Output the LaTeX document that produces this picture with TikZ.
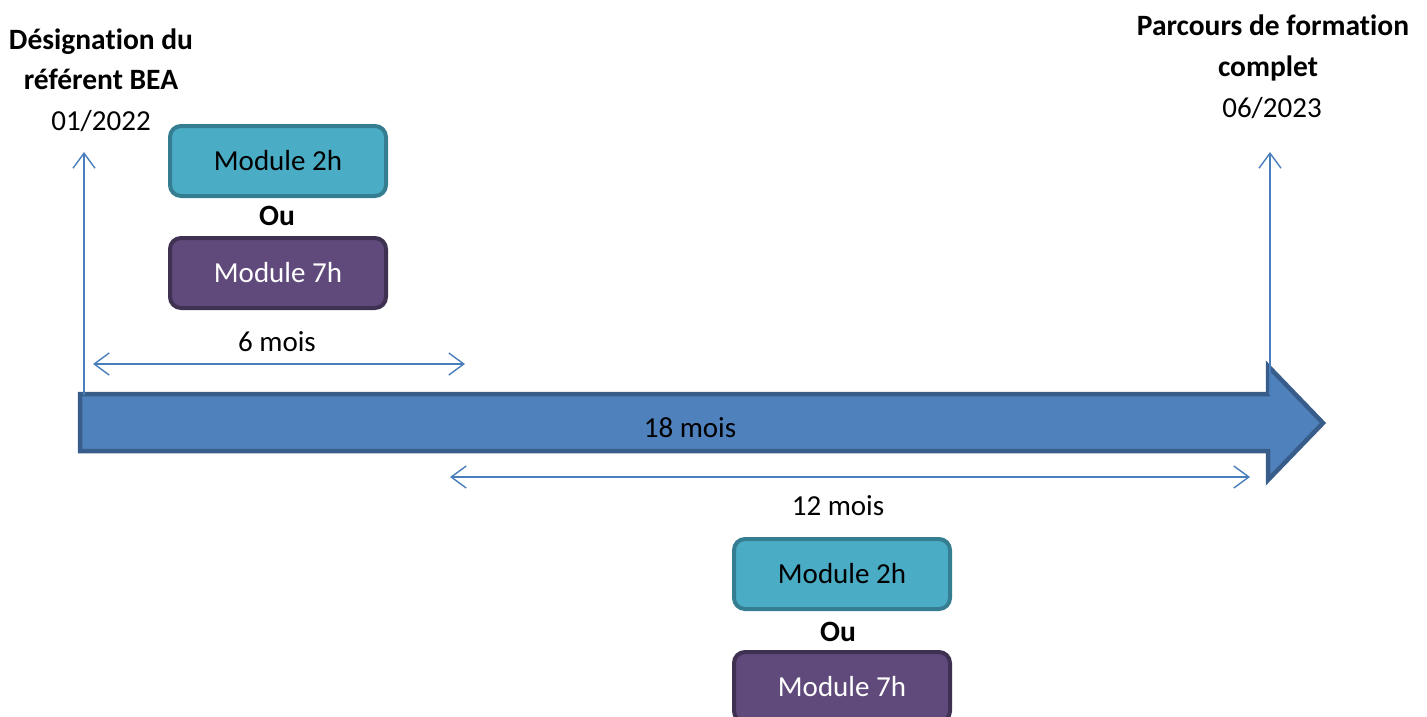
\documentclass[tikz,border=0pt]{standalone}
\usepackage{fontspec}
\setmainfont{Carlito}[Ligatures=NoCommon]
\usetikzlibrary{arrows.meta}
\definecolor{mainblue}{HTML}{4F81BD}
\definecolor{mainborder}{HTML}{385D8A}
\definecolor{lineblue}{HTML}{4A7EBB}
\definecolor{tealfill}{HTML}{4BACC6}
\definecolor{tealborder}{HTML}{357D91}
\definecolor{purplefill}{HTML}{604A7B}
\definecolor{purpleborder}{HTML}{3F3151}
\tikzset{
  txt/.style={font=\fontsize{29}{34}\selectfont, inner sep=0pt, anchor=base},
  boldtxt/.style={txt, font=\fontsize{29.5}{34}\selectfont\bfseries},
  modbox/.style={rounded corners=11pt, line width=4pt, minimum width=216pt, minimum height=70pt, inner sep=0pt, font=\fontsize{29}{34}\selectfont},
  mod2/.style={modbox, fill=tealfill, draw=tealborder, text=black},
  mod7/.style={modbox, fill=purplefill, draw=purpleborder, text=white},
  thin/.style={draw=lineblue, line width=1.4pt},
  barb/.style={-{Straight Barb[length=15pt,width=22pt,line width=1.4pt]}},
  dbarb/.style={{Straight Barb[length=15pt,width=22pt,line width=1.4pt]}-{Straight Barb[length=15pt,width=22pt,line width=1.4pt]}}
}
\begin{document}
\begin{tikzpicture}[x=1pt,y=-1pt]
\useasboundingbox (0,0) rectangle (1427,716);
\clip (0,0) rectangle (1427,716);
% big arrow
\draw[fill=mainblue, draw=mainborder, line width=4.5pt, line join=miter]
  (80,394) -- (1268,394) -- (1268,366) -- (1323,423) -- (1268,480) -- (1268,451) -- (80,451) -- cycle;
\node[txt] (m18) at (690,437) {18 mois};
% vertical arrows
\coordinate (lb) at (84,395);
\coordinate (lt) at (84,152);
\coordinate (rb) at (1270,395);
\coordinate (rt) at (1270,152);
\draw[thin, barb] (lb) -- (lt);
\draw[thin, barb] (rb) -- (rt);
% titles
\node[boldtxt] (t1a) at (101,49) {Désignation du};
\node[boldtxt] (t1b) at (101,89) {référent BEA};
\node[txt] (d1) at (101,130) {01/2022};
\node[boldtxt] (t2a) at (1273,35) {Parcours de formation};
\node[boldtxt] (t2b) at (1268,76) {complet};
\node[txt] (d2) at (1272,117) {06/2023};
% top modules
\node[mod2] (a2) at (278,161) {Module 2h};
\node[boldtxt] (aou) at (277,225) {Ou};
\node[mod7] (a7) at (278,273) {Module 7h};
% 6 mois
\coordinate (s1) at (93,364);
\coordinate (s2) at (465,364);
\draw[thin, dbarb] (s1) -- (s2);
\node[txt] (m6) at (277,351) {6 mois};
% 12 mois
\coordinate (u1) at (450,477);
\coordinate (u2) at (1250,477);
\draw[thin, dbarb] (u1) -- (u2);
\node[txt] (m12) at (838,515) {12 mois};
% bottom modules
\node[mod2] (b2) at (842,574) {Module 2h};
\node[boldtxt] (bou) at (838,641) {Ou};
\node[mod7] (b7) at (842,687) {Module 7h};
\end{tikzpicture}
\end{document}
